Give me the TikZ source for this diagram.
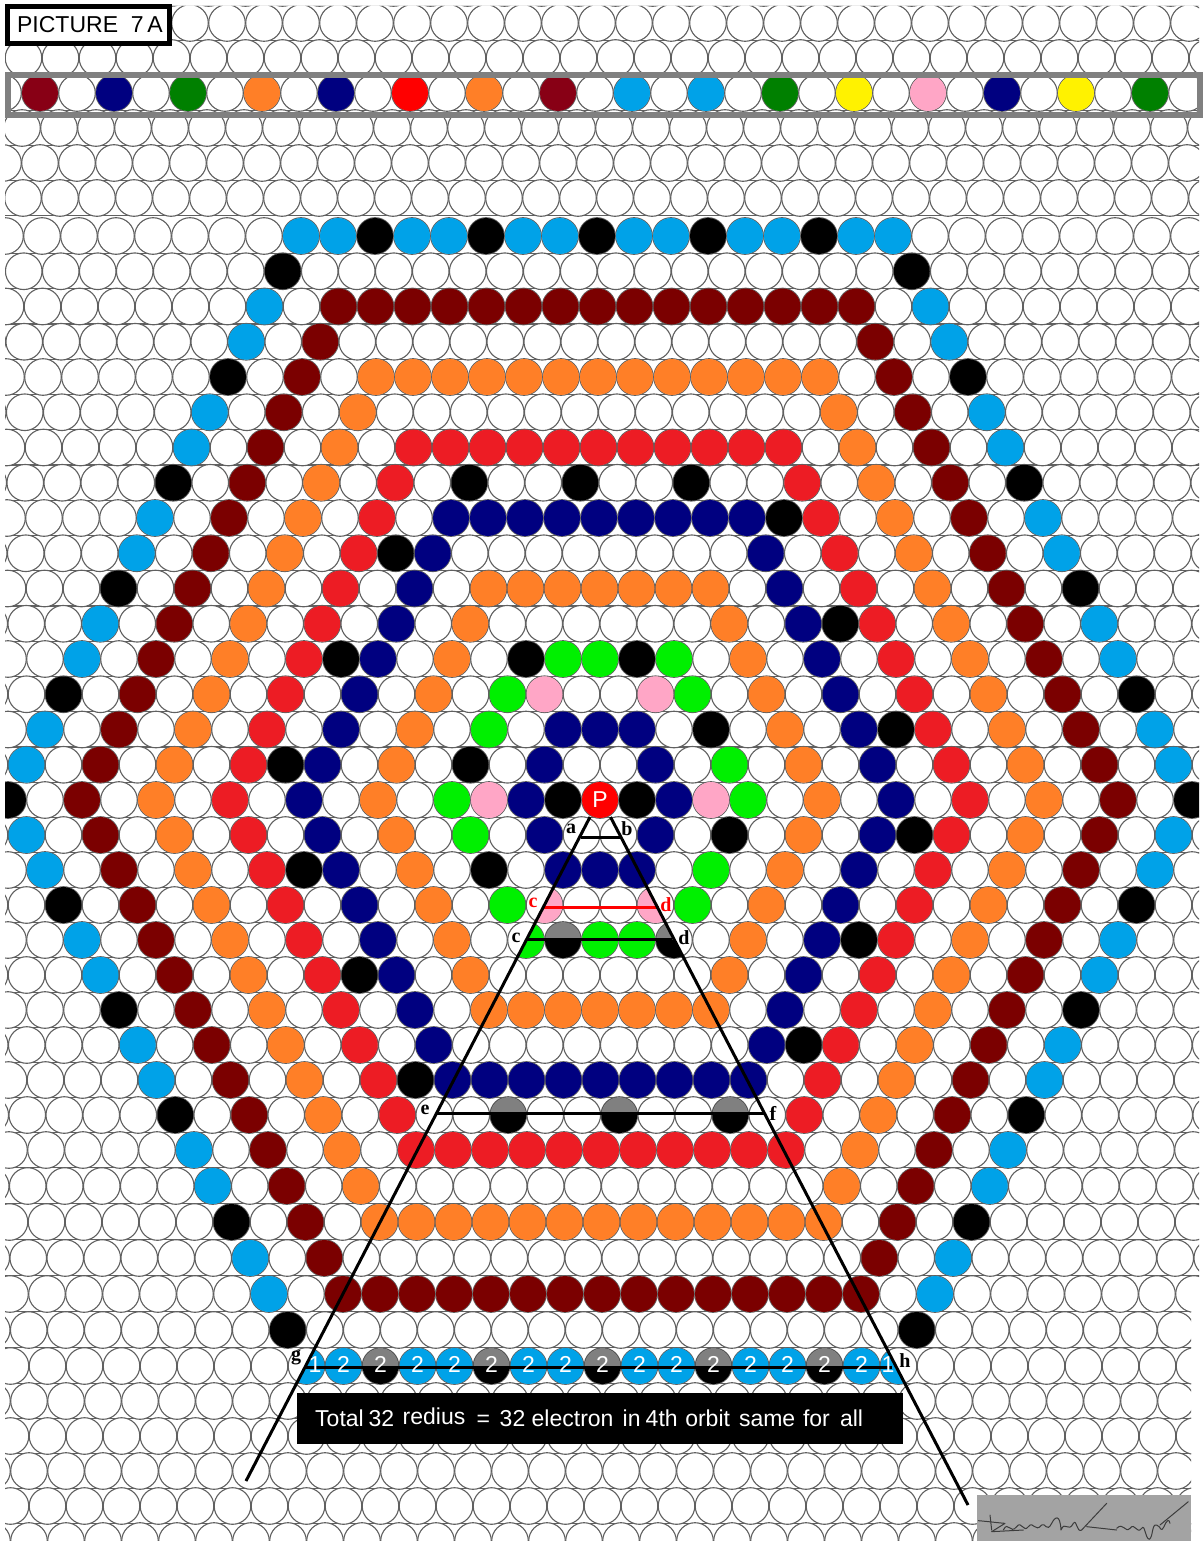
\documentclass[tikz,border=0pt]{standalone}
\usepackage{fontspec}
\setmainfont{Liberation Sans}
\newfontfamily\labfont{Liberation Serif}[BoldFont={Liberation Serif Bold}]
\definecolor{cBlue}{HTML}{00A2E8}
\definecolor{cDark}{HTML}{7B0000}
\definecolor{cBurg}{HTML}{880015}
\definecolor{cOrange}{HTML}{FF7F27}
\definecolor{cRed}{HTML}{ED1C24}
\definecolor{cNavy}{HTML}{000080}
\definecolor{cLime}{HTML}{00F000}
\definecolor{cGreen}{HTML}{008000}
\definecolor{cPink}{HTML}{FFA6C6}
\definecolor{cYellow}{HTML}{FFF200}
\definecolor{cEdge}{HTML}{606060}
\definecolor{cBand}{HTML}{808080}
\definecolor{cSig}{HTML}{A3A3A3}
\definecolor{cInk}{HTML}{3C3C3C}
\tikzset{
  cellline/.style={draw=cEdge,line width=1.1pt,fill=white},
  barline/.style={draw=cEdge,line width=1.1pt},
  blackline/.style={draw=black,line width=3pt},
  redline/.style={draw=red,line width=3pt},
  letter/.style={inner sep=0pt,font=\labfont\bfseries\fontsize{20}{20}\selectfont},
  digit/.style={inner sep=0pt,text=white,font=\fontsize{23}{23}\selectfont},
  sigline/.style={draw=cInk,line width=1pt,line join=round,line cap=round}
}
\def\setrow#1{%
  \ifnum#1<-16
    \pgfmathsetmacro\ry{93+35*(#1+20)}%
    \pgfmathsetmacro\rs{{-3,-3,-3,-5,-4.5,-5,-3.5}[#1+23]}%
  \else\ifnum#1<1
    \pgfmathsetmacro\ry{800+35.25*(#1)}%
    \pgfmathsetmacro\rs{min(0,(#1+4)/4)}%
  \else\ifnum#1<11
    \pgfmathsetmacro\ry{800+35*(#1)}%
    \pgfmathsetmacro\rs{max(0,(#1-6)*.25)}%
  \else\ifnum#1<17
    \pgfmathsetmacro\ry{1150+36*(#1-10)}%
    \pgfmathsetmacro\rs{min(2.5,(#1-6)*.25)}%
  \else
    \pgfmathsetmacro\ry{1366+35*(#1-16)}%
    \pgfmathsetmacro\rs{2.5}%
  \fi\fi\fi\fi}
% colored cells: row, colour, list of positions
\newcommand\cc[3]{\setrow{#1}\foreach \k in {#3}{\fill[#2] ({600+\rs+37*\k},\ry) circle[radius=18pt];}}
% two-tone cells: row, split height, list of positions
\newcommand\hc[3]{\setrow{#1}\foreach \k in {#3}{%
  \fill[black] ({600+\rs+37*\k},\ry) circle[radius=18pt];
  \begin{scope}
    \clip ({600+\rs+37*\k-20},{\ry-25}) rectangle ({600+\rs+37*\k+20},#2);
    \fill[cBand] ({600+\rs+37*\k},\ry) circle[radius=18pt];
  \end{scope}}}
\begin{document}
\begin{tikzpicture}[x=1pt,y=-1pt]
\useasboundingbox (0,0) rectangle (1203,1541);
\fill[white] (0,0) rectangle (1203,1541);
\coordinate (apexL) at (590,817);
\coordinate (footL) at (246,1481);
\coordinate (apexR) at (610.5,817);
\coordinate (footR) at (968,1505);
\begin{scope}
\clip (5,6) -- (1199,6) -- (1199,1300) -- (1191,1300) -- (1191,1541) -- (5,1541) -- cycle;
% interstice bars
\foreach \r in {-23,...,20}{\setrow{\r}\draw[barline] (0,\ry+17.5) -- (1203,\ry+17.5);}
% base lattice
\foreach \r in {-23,...,21}{%
  \setrow{\r}%
  \pgfmathsetmacro\off{mod(abs(\r),2)*0.5}%
  \foreach \k in {-17,...,17}{\draw[cellline] ({600+\rs+37*(\k+\off)},\ry) circle[radius=18.3pt];}}
% palette row
\cc{-20}{cBurg}{-15,-1}
\cc{-20}{cNavy}{-13,-7,11}
\cc{-20}{cGreen}{-11,5,15}
\cc{-20}{cOrange}{-9,-3}
\cc{-20}{red}{-5}
\cc{-20}{cBlue}{1,3}
\cc{-20}{cYellow}{7,13}
\cc{-20}{cPink}{9}
% rings
\cc{-16}{cBlue}{-8,-7,-5,-4,-2,-1,1,2,4,5,7,8}
\cc{-16}{black}{-6,-3,0,3,6}
\cc{-15}{black}{-8.5,8.5}
\cc{-14}{cBlue}{-9,9}
\cc{-14}{cDark}{-7,...,7}
\cc{-13}{cBlue}{-9.5,9.5}
\cc{-13}{cDark}{-7.5,7.5}
\cc{-12}{black}{-10,10}
\cc{-12}{cDark}{-8,8}
\cc{-12}{cOrange}{-6,...,6}
\cc{-11}{cBlue}{-10.5,10.5}
\cc{-11}{cDark}{-8.5,8.5}
\cc{-11}{cOrange}{-6.5,6.5}
\cc{-10}{cBlue}{-11,11}
\cc{-10}{cDark}{-9,9}
\cc{-10}{cOrange}{-7,7}
\cc{-10}{cRed}{-5,...,5}
\cc{-9}{black}{-11.5,-3.5,-0.5,2.5,11.5}
\cc{-9}{cDark}{-9.5,9.5}
\cc{-9}{cOrange}{-7.5,7.5}
\cc{-9}{cRed}{-5.5,5.5}
\cc{-8}{cBlue}{-12,12}
\cc{-8}{cDark}{-10,10}
\cc{-8}{cOrange}{-8,8}
\cc{-8}{cRed}{-6,6}
\cc{-8}{cNavy}{-4,...,4}
\cc{-8}{black}{5}
\cc{-7}{cBlue}{-12.5,12.5}
\cc{-7}{cDark}{-10.5,10.5}
\cc{-7}{cOrange}{-8.5,8.5}
\cc{-7}{cRed}{-6.5,6.5}
\cc{-7}{black}{-5.5}
\cc{-7}{cNavy}{-4.5,4.5}
\cc{-6}{black}{-13,13}
\cc{-6}{cDark}{-11,11}
\cc{-6}{cOrange}{-9,9,-3,-2,-1,0,1,2,3}
\cc{-6}{cRed}{-7,7}
\cc{-6}{cNavy}{-5,5}
\cc{-5}{cBlue}{-13.5,13.5}
\cc{-5}{cDark}{-11.5,11.5}
\cc{-5}{cOrange}{-9.5,9.5,-3.5,3.5}
\cc{-5}{cRed}{-7.5,7.5}
\cc{-5}{cNavy}{-5.5,5.5}
\cc{-5}{black}{6.5}
\cc{-4}{cBlue}{-14,14}
\cc{-4}{cDark}{-12,12}
\cc{-4}{cOrange}{-10,10,-4,4}
\cc{-4}{cRed}{-8,8}
\cc{-4}{black}{-7,-2,1}
\cc{-4}{cNavy}{-6,6}
\cc{-4}{cLime}{-1,0,2}
\cc{-3}{black}{-14.5,14.5}
\cc{-3}{cDark}{-12.5,12.5}
\cc{-3}{cOrange}{-10.5,10.5,-4.5,4.5}
\cc{-3}{cRed}{-8.5,8.5}
\cc{-3}{cNavy}{-6.5,6.5}
\cc{-3}{cLime}{-2.5,2.5}
\cc{-3}{cPink}{-1.5,1.5}
\cc{-2}{cBlue}{-15,15}
\cc{-2}{cDark}{-13,13}
\cc{-2}{cOrange}{-11,11,-5,5}
\cc{-2}{cRed}{-9,9}
\cc{-2}{cNavy}{-7,7,-1,0,1}
\cc{-2}{cLime}{-3}
\cc{-2}{black}{3,8}
\cc{-1}{cBlue}{-15.5,15.5}
\cc{-1}{cDark}{-13.5,13.5}
\cc{-1}{cOrange}{-11.5,11.5,-5.5,5.5}
\cc{-1}{cRed}{-9.5,9.5}
\cc{-1}{black}{-8.5,-3.5}
\cc{-1}{cNavy}{-7.5,7.5,-1.5,1.5}
\cc{-1}{cLime}{3.5}
\cc{0}{black}{-16,16,-1,1}
\cc{0}{cDark}{-14,14}
\cc{0}{cOrange}{-12,12,-6,6}
\cc{0}{cRed}{-10,10}
\cc{0}{cNavy}{-8,8,-2,2}
\cc{0}{cLime}{-4,4}
\cc{0}{cPink}{-3,3}
\cc{1}{cBlue}{-15.5,15.5}
\cc{1}{cDark}{-13.5,13.5}
\cc{1}{cOrange}{-11.5,11.5,-5.5,5.5}
\cc{1}{cRed}{-9.5,9.5}
\cc{1}{cNavy}{-7.5,7.5,-1.5,1.5}
\cc{1}{cLime}{-3.5}
\cc{1}{black}{3.5,8.5}
\cc{2}{cBlue}{-15,15}
\cc{2}{cDark}{-13,13}
\cc{2}{cOrange}{-11,11,-5,5}
\cc{2}{cRed}{-9,9}
\cc{2}{black}{-8,-3}
\cc{2}{cNavy}{-7,7,-1,0,1}
\cc{2}{cLime}{3}
\cc{3}{black}{-14.5,14.5}
\cc{3}{cDark}{-12.5,12.5}
\cc{3}{cOrange}{-10.5,10.5,-4.5,4.5}
\cc{3}{cRed}{-8.5,8.5}
\cc{3}{cNavy}{-6.5,6.5}
\cc{3}{cLime}{-2.5,2.5}
\cc{4}{cBlue}{-14,14}
\cc{4}{cDark}{-12,12}
\cc{4}{cOrange}{-10,10,-4,4}
\cc{4}{cRed}{-8,8}
\cc{4}{cNavy}{-6,6}
\cc{4}{cLime}{0,1}
\cc{4}{black}{7}
\hc{4}{939}{-1}
\cc{5}{cBlue}{-13.5,13.5}
\cc{5}{cDark}{-11.5,11.5}
\cc{5}{cOrange}{-9.5,9.5,-3.5,3.5}
\cc{5}{cRed}{-7.5,7.5}
\cc{5}{black}{-6.5}
\cc{5}{cNavy}{-5.5,5.5}
\cc{6}{black}{-13,13}
\cc{6}{cDark}{-11,11}
\cc{6}{cOrange}{-9,9,-3,-2,-1,0,1,2,3}
\cc{6}{cRed}{-7,7}
\cc{6}{cNavy}{-5,5}
\cc{7}{cBlue}{-12.5,12.5}
\cc{7}{cDark}{-10.5,10.5}
\cc{7}{cOrange}{-8.5,8.5}
\cc{7}{cRed}{-6.5,6.5}
\cc{7}{cNavy}{-4.5,4.5}
\cc{7}{black}{5.5}
\cc{8}{cBlue}{-12,12}
\cc{8}{cDark}{-10,10}
\cc{8}{cOrange}{-8,8}
\cc{8}{cRed}{-6,6}
\cc{8}{black}{-5}
\cc{8}{cNavy}{-4,...,4}
\cc{9}{black}{-11.5,11.5}
\cc{9}{cDark}{-9.5,9.5}
\cc{9}{cOrange}{-7.5,7.5}
\cc{9}{cRed}{-5.5,5.5}
\hc{9}{1113}{-2.5,0.5,3.5}
\cc{10}{cBlue}{-11,11}
\cc{10}{cDark}{-9,9}
\cc{10}{cOrange}{-7,7}
\cc{10}{cRed}{-5,...,5}
\cc{11}{cBlue}{-10.5,10.5}
\cc{11}{cDark}{-8.5,8.5}
\cc{11}{cOrange}{-6.5,6.5}
\cc{12}{black}{-10,10}
\cc{12}{cDark}{-8,8}
\cc{12}{cOrange}{-6,...,6}
\cc{13}{cBlue}{-9.5,9.5}
\cc{13}{cDark}{-7.5,7.5}
\cc{14}{cBlue}{-9,9}
\cc{14}{cDark}{-7,...,7}
\cc{15}{black}{-8.5,8.5}
\cc{16}{cBlue}{-7,-5,-4,-2,-1,1,2,4,5,7}
\hc{16}{1367}{-6,-3,0,3,6}
% cells cut along the triangle's sides
\begin{scope}
  \clip (apexL) -- (footL) -- (footR) -- (apexR) -- cycle;
  \cc{3}{cPink}{-1.5,1.5}
  \cc{4}{cLime}{-2}
  \hc{4}{939}{2}
  \cc{16}{cBlue}{-8,8}
\end{scope}
\end{scope}
% band and title box
\draw[cBand,line width=6pt] (8,75) rectangle (1200,115);
\fill[cBand] (1197,72) rectangle (1203,118);
\node[draw=black,line width=5pt,fill=white,minimum width=162pt,minimum height=37pt,inner sep=0pt,anchor=center,font=\fontsize{23}{24}\selectfont] (title) at (88.5,25) {\hspace*{3pt}PICTURE\ \ 7\,A};
% triangle sides and cross lines
\coordinate (ab1) at (581,837);
\coordinate (ab2) at (621,837);
\coordinate (cd1) at (543,907);
\coordinate (cd2) at (659,907);
\coordinate (kl1) at (527,939);
\coordinate (kl2) at (672,939);
\coordinate (ef1) at (437,1113);
\coordinate (ef2) at (765,1113);
\coordinate (gh1) at (305,1367);
\coordinate (gh2) at (892,1367);
\draw[blackline] (ab1) -- (ab2);
\draw[redline] (cd1) -- (cd2);
\draw[blackline] (kl1) -- (kl2);
\draw[blackline] (ef1) -- (ef2);
\draw[blackline] (gh1) -- (gh2);
\draw[blackline] (apexL) -- (footL);
\draw[blackline] (apexR) -- (footR);
% digits on the outer row
\node[digit] (n1) at (315,1365) {1};
\foreach \k/\i in {-7/2,-6/3,-5/4,-4/5,-3/6,-2/7,-1/8,0/9,1/10,2/11,3/12,4/13,5/14,6/15,7/16}{%
  \node[digit] (n\i) at ({602.5+37*\k},1364) {2};}
\node[digit] (n17) at (888,1365) {1};
% nucleus
\node[circle,fill=red,minimum size=36pt,inner sep=0pt,text=white,font=\fontsize{23}{23}\selectfont] (P) at (600,800) {P};
% letters
\node[letter] (a) at (571,829) {a};
\node[letter] (b) at (627,829) {b};
\node[letter,text=red] (c1) at (533,903) {c};
\node[letter,text=red] (d1) at (666,905) {d};
\node[letter] (c2) at (516,938) {c};
\node[letter] (d2) at (684,938) {d};
\node[letter] (e) at (425,1110) {e};
\node[letter] (f) at (773,1113) {f};
\node[letter] (g) at (296,1358) {g};
\node[letter] (h) at (905,1361) {h};
% caption
\node[fill=black,minimum width=606pt,minimum height=51pt,inner sep=0pt] (capbox) at (600,1418.5) {};
\node[anchor=base west,text=white,inner sep=0pt,font=\fontsize{23}{24}\selectfont] (cap) at (315,1426) {Total\hspace{4.9pt}32\hspace{8.4pt}\raisebox{1.5pt}{redius}\hspace{11.4pt}=\hspace{9.6pt}32\hspace{6.4pt}electron\hspace{9.2pt}in\hspace{5.1pt}4th\hspace{7.6pt}orbit\hspace{9pt}same\hspace{7.8pt}for\hspace{10.2pt}all};
% signature
\node[fill=cSig,minimum width=214pt,minimum height=46pt,inner sep=0pt] (sig) at (1084,1518) {};
\begin{scope}[shift={(960,1480)},x=0.3333pt,y=-0.3333pt]
\draw[sigline] (55,122) .. controls (90,125) and (110,128) .. (135,130) -- (95,155) -- (190,150);
\draw[sigline] (90,105) -- (95,150);
\draw[sigline] (130,150) .. controls (145,120) and (150,165) .. (170,140) .. controls (185,120) and (190,160) .. (205,140) .. controls (220,120) and (225,160) .. (245,135) .. controls (255,125) and (260,160) .. (275,130) .. controls (285,110) and (300,100) .. (303,150) .. controls (315,120) and (325,160) .. (340,130) .. controls (350,115) and (350,160) .. (365,150);
\draw[sigline] (365,150) -- (440,70);
\draw[sigline] (380,140) -- (470,150);
\draw[sigline] (470,145) .. controls (490,125) and (495,160) .. (510,145) .. controls (525,125) and (530,165) .. (545,145) .. controls (555,130) and (555,175) .. (568,178) .. controls (580,170) and (575,130) .. (590,135) .. controls (605,140) and (600,160) .. (612,140) .. controls (620,120) and (628,115) .. (630,130);
\draw[sigline] (600,135) -- (685,65);
\end{scope}
\end{tikzpicture}
\end{document}
